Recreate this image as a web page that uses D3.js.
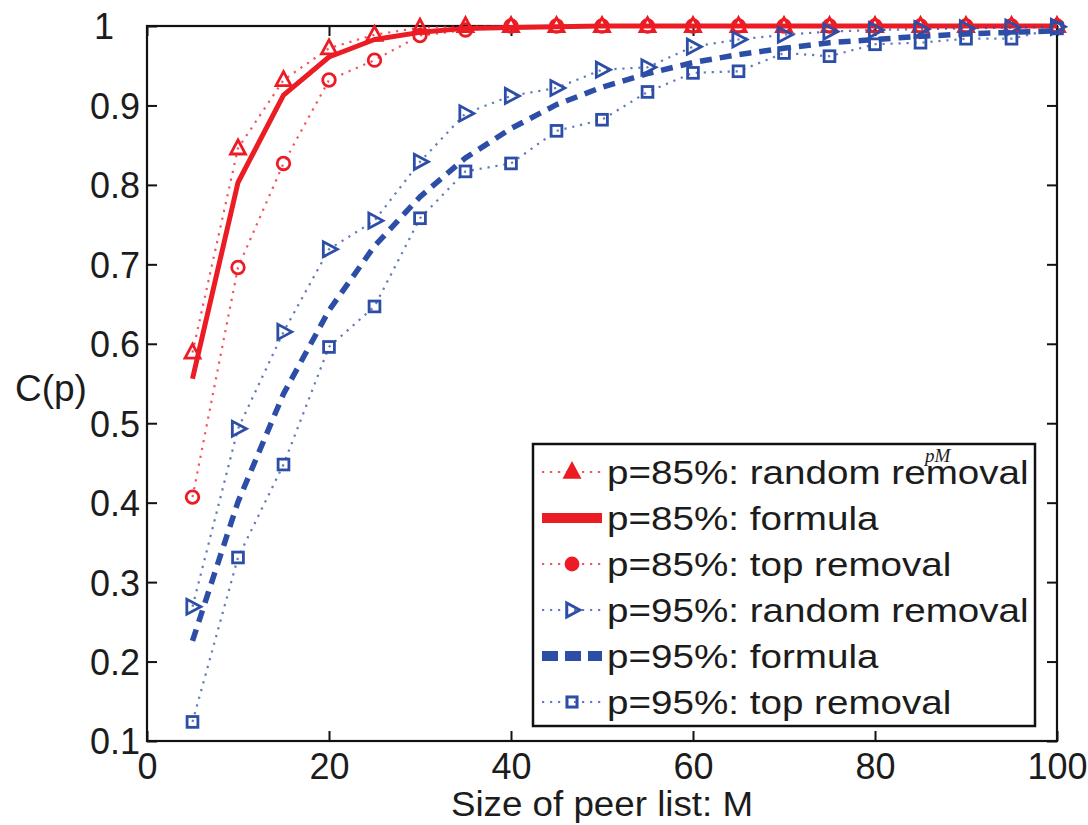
<!DOCTYPE html>
<html>
<head>
<meta charset="utf-8">
<script src="https://cdn.jsdelivr.net/npm/d3@7"></script>
<style>
  html, body { margin: 0; padding: 0; background: #fff; }
  svg { display: block; }
  text { font-family: "Liberation Sans", Arial, Helvetica, sans-serif; fill: #1c1c1c; }
</style>
</head>
<body>
<svg id="chart" width="1088" height="825"></svg>
<script>
// ---------------- data ----------------
const M = [5,10,15,20,25,30,35,40,45,50,55,60,65,70,75,80,85,90,95,100];

const p85Random  = [0.589,0.846,0.932,0.972,0.989,0.998,1,1,1,1,1,1,1,1,1,1,1,1,1,1];
const p85Formula = [0.556,0.803,0.913,0.961,0.983,0.992,0.997,0.998,0.999,1,1,1,1,1,1,1,1,1,1,1];
const p85Top     = [0.407,0.696,0.827,0.932,0.957,0.988,0.995,1,1,1,1,1,1,1,1,1,1,1,1,1];
const p95Random  = [0.269,0.493,0.615,0.719,0.755,0.829,0.890,0.912,0.922,0.945,0.948,0.974,0.983,0.989,0.993,0.995,0.996,0.997,0.998,0.999];
const p95Formula = [0.226,0.401,0.537,0.642,0.723,0.785,0.834,0.871,0.901,0.923,0.940,0.954,0.964,0.972,0.979,0.983,0.987,0.990,0.992,0.994];
const p95Top     = [0.124,0.331,0.448,0.596,0.647,0.758,0.817,0.827,0.868,0.882,0.917,0.941,0.943,0.966,0.962,0.977,0.979,0.984,0.984,0.997];

const xTicks = [0,20,40,60,80,100];
const yTicks = [0.1,0.2,0.3,0.4,0.5,0.6,0.7,0.8,0.9,1];
const yTickLabels = ["0.1","0.2","0.3","0.4","0.5","0.6","0.7","0.8","0.9","1"];

const seriesNames = [
  "p=85%: random removal",
  "p=85%: formula",
  "p=85%: top removal",
  "p=95%: random removal",
  "p=95%: formula",
  "p=95%: top removal"
];
const xLabel = "Size of peer list: M";
const yLabel = "C(p)";

// ---------------- styles ----------------
const RED = "#ec1c24", BLUE = "#2d4ea6";
const series = [
  {name: seriesNames[0], vals: p85Random,  color: RED,  kind: "dotted", marker: "triUp"},
  {name: seriesNames[1], vals: p85Formula, color: RED,  kind: "solid",  marker: null},
  {name: seriesNames[2], vals: p85Top,     color: RED,  kind: "dotted", marker: "circle"},
  {name: seriesNames[3], vals: p95Random,  color: BLUE, kind: "dotted", marker: "triRight"},
  {name: seriesNames[4], vals: p95Formula, color: BLUE, kind: "dashed", marker: null},
  {name: seriesNames[5], vals: p95Top,     color: BLUE, kind: "dotted", marker: "square"}
];

const svg = d3.select("#chart");
const L = 147, R = 1057, T = 26, B = 741;
const x = d3.scaleLinear().domain([0,100]).range([L,R]);
const y = d3.scaleLinear().domain([0.1,1]).range([B,T]);

// axes (MATLAB box with inward ticks)
const tickLen = 10;
svg.append("g").attr("transform",`translate(0,${B})`)
  .call(d3.axisBottom(x).tickValues(xTicks).tickSizeInner(-tickLen).tickSizeOuter(0).tickPadding(12).tickFormat(d3.format("d")))
  .call(g => { g.select(".domain").remove(); g.selectAll("line").attr("stroke","#111").attr("stroke-width",2);
    g.selectAll("text").attr("font-size",36).attr("fill","#1c1c1c").attr("dy","0.71em"); });
svg.append("g").attr("transform",`translate(0,${T})`)
  .call(d3.axisTop(x).tickValues(xTicks).tickSizeInner(-tickLen).tickSizeOuter(0).tickFormat(""))
  .call(g => { g.select(".domain").remove(); g.selectAll("line").attr("stroke","#111").attr("stroke-width",2); });
svg.append("g").attr("transform",`translate(${L},0)`)
  .call(d3.axisLeft(y).tickValues(yTicks).tickSizeInner(-tickLen).tickSizeOuter(0).tickPadding(7)
        .tickFormat((d,i) => yTickLabels[i]))
  .call(g => { g.select(".domain").remove(); g.selectAll("line").attr("stroke","#111").attr("stroke-width",2);
    g.selectAll("text").attr("font-size",36).attr("fill","#1c1c1c").attr("dy","0.36em")
      .attr("dx", (d,i) => yTickLabels[i] === "1" ? -26 : 0); });
svg.append("g").attr("transform",`translate(${R},0)`)
  .call(d3.axisRight(y).tickValues(yTicks).tickSizeInner(-tickLen).tickSizeOuter(0).tickFormat(""))
  .call(g => { g.select(".domain").remove(); g.selectAll("line").attr("stroke","#111").attr("stroke-width",2); });

svg.append("rect").attr("x",L).attr("y",T).attr("width",R-L).attr("height",B-T)
  .attr("fill","none").attr("stroke","#111").attr("stroke-width",2.2);

// labels
svg.append("text").attr("transform",`translate(${(L+R)/2},816) scale(1.05,1)`).attr("text-anchor","middle")
  .attr("font-size",35).text(xLabel);
svg.append("text").attr("x",15).attr("y",401).attr("font-size",37).text(yLabel);

// markers
function drawMarker(g, type, cx, cy, color, s, sw, fill) {
  if (type === "triUp") {
    const h = s*0.9;
    g.append("path").attr("d",`M${cx},${cy-h*0.62} L${cx+s/2},${cy+h*0.42} L${cx-s/2},${cy+h*0.42} Z`)
      .attr("fill",fill).attr("stroke",color).attr("stroke-width",sw).attr("stroke-linejoin","miter");
  } else if (type === "triRight") {
    const h = s*0.9;
    g.append("path").attr("d",`M${cx+h*0.62},${cy} L${cx-h*0.42},${cy-s/2} L${cx-h*0.42},${cy+s/2} Z`)
      .attr("fill",fill).attr("stroke",color).attr("stroke-width",sw);
  } else if (type === "circle") {
    g.append("circle").attr("cx",cx).attr("cy",cy).attr("r",s*0.42)
      .attr("fill",fill).attr("stroke",color).attr("stroke-width",sw);
  } else if (type === "square") {
    g.append("rect").attr("x",cx-s*0.36).attr("y",cy-s*0.36).attr("width",s*0.72).attr("height",s*0.72)
      .attr("fill",fill).attr("stroke",color).attr("stroke-width",sw);
  }
}

function styleLine(sel, s, legend) {
  if (s.kind === "solid") sel.attr("stroke-width", legend ? 10 : 5);
  else if (s.kind === "dashed") sel.attr("stroke-width", legend ? 10 : 5.5).attr("stroke-dasharray", legend ? "16,7" : "12,8");
  else sel.attr("stroke-width", 2.2).attr("stroke-dasharray","2.2,5.8").attr("stroke-opacity",0.75);
  return sel;
}

const line = d3.line().x((d,i) => x(M[i])).y(d => y(d));
series.forEach(s => {
  const g = svg.append("g");
  styleLine(g.append("path").datum(s.vals).attr("d",line).attr("fill","none").attr("stroke",s.color)
    .attr("stroke-linejoin","round"), s, false);
  if (s.marker) s.vals.forEach((v,i) => drawMarker(g, s.marker, x(M[i]), y(v), s.color, 15, 2.8, "none"));
});

// legend
const lg = svg.append("g");
lg.append("rect").attr("x",533).attr("y",444).attr("width",502).attr("height",282)
  .attr("fill","#fff").attr("stroke","#111").attr("stroke-width",2.5);
const rowY = d3.scaleLinear().domain([0,5]).range([472,702]);
series.forEach((s,i) => {
  const cy = rowY(i);
  styleLine(lg.append("line").attr("x1",542).attr("x2",602).attr("y1",cy).attr("y2",cy).attr("stroke",s.color), s, true);
  if (s.marker) drawMarker(lg, s.marker, 572, cy, s.color, 14, 3, s.color === RED ? RED : "none");
  lg.append("text").attr("transform",`translate(607,${cy+12}) scale(1.17,1)`)
    .attr("font-size",33).text(s.name);
});
lg.append("text").attr("x",925).attr("y",462).attr("font-size",19)
  .attr("font-style","italic").style("font-family","'Liberation Serif', 'Times New Roman', serif").text("pM");
</script>
</body>
</html>
